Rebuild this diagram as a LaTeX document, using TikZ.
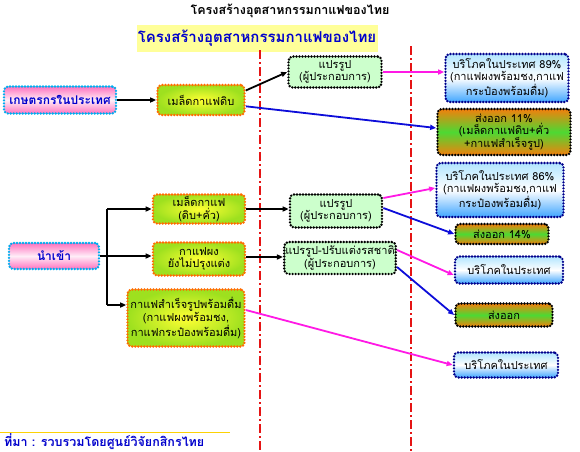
\documentclass[tikz,border=0pt]{standalone}
\usepackage{fontspec}
\setmainfont[Script=Thai]{Loma}
\usetikzlibrary{arrows.meta,calc}
\definecolor{pinkA}{rgb}{1,0.45,0.75}
\definecolor{pinkB}{rgb}{1,0.93,0.97}
\definecolor{limeA}{rgb}{0.62,0.88,0.12}
\definecolor{yelA}{rgb}{1,1,0.2}
\definecolor{procG}{rgb}{0.8,1,0.8}
\definecolor{blueA}{rgb}{0.7,0.9,1}
\definecolor{blueB}{rgb}{0.25,0.65,1}
\definecolor{orA}{rgb}{0.95,0.5,0.05}
\definecolor{grA}{rgb}{0.3,0.85,0.2}
\definecolor{navy}{rgb}{0,0,0.55}
\definecolor{txtblue}{rgb}{0,0,0.8}
\definecolor{bannerY}{rgb}{1,1,0.6}
\definecolor{redL}{rgb}{0.9,0.08,0.08}
\definecolor{magL}{rgb}{1,0.1,0.9}
\definecolor{blueL}{rgb}{0.05,0.05,0.85}
\tikzset{
  dotb/.style={dash pattern=on 0pt off 3pt, line cap=round, line width=2.7pt, rounded corners=4pt},
  basebox/.style={dotb, align=center, inner sep=1pt, font=\fontsize{11}{12.8}\selectfont},
  pinkbox/.style={basebox, draw=cyan, top color=pinkA, bottom color=pinkA, middle color=pinkB, text=txtblue, font=\fontsize{12}{13}\selectfont\bfseries},
  yelbox/.style={basebox, draw=orange!85!red, inner color=yelA, outer color=limeA},
  procbox/.style={basebox, draw=black, fill=procG},
  consbox/.style={basebox, draw=navy, top color=blueA, bottom color=blueB, middle color=white},
  expbox/.style={basebox, draw=black, top color=orA, bottom color=orA, middle color=grA},
  redline/.style={draw=redL, line width=2.4pt, dash pattern=on 9pt off 3pt on 2pt off 3pt},
  blk/.style={draw=black, line width=1.8pt, -{Triangle[length=6pt,width=5pt]}},
  mag/.style={draw=magL, line width=1.8pt, -{Triangle[length=6pt,width=5pt]}},
  blu/.style={draw=blueL, line width=1.8pt, -{Triangle[length=6pt,width=5pt]}},
}
\begin{document}
\begin{tikzpicture}[x=1pt,y=-1pt]
\useasboundingbox (0,0) rectangle (580,451);
\fill[white] (0,0) rectangle (580,451);
% title and banner
\node (title) at (290,11) {\fontsize{12.5}{14}\selectfont\bfseries โครงสร้างอุตสาหกรรมกาแฟของไทย};
\node[fill=bannerY, minimum width=241pt, minimum height=27pt, inner sep=0pt, text=txtblue] (banner) at (257,38) {\fontsize{15}{17}\selectfont\bfseries โครงสร้างอุตสาหกรรมกาแฟของไทย};
% red dash-dot lines
\coordinate (r1t) at (260,50);
\coordinate (r1b) at (260,451);
\coordinate (r2t) at (411,46);
\coordinate (r2b) at (411,451);
\draw[redline] (r1t) -- (r1b);
\draw[redline] (r2t) -- (r2b);
% top section
\node[pinkbox, minimum width=112pt, minimum height=27pt] (farm) at (60,100) {เกษตรกรในประเทศ};
\node[yelbox, minimum width=87pt, minimum height=30pt] (raw) at (201,100) {เมล็ดกาแฟดิบ};
\node[procbox, minimum width=93pt, minimum height=31pt] (proc1) at (335,72) {แปรรูป\\(ผู้ประกอบการ)};
\node[consbox, minimum width=123pt, minimum height=48pt] (dom1) at (507,78) {บริโภคในประเทศ 89\%\\(กาแฟผงพร้อมชง,กาแฟ\\กระป๋องพร้อมดื่ม)};
\node[expbox, minimum width=133pt, minimum height=46pt] (exp1) at (504,132) {ส่งออก 11\%\\(เมล็ดกาแฟดิบ+คั่ว\\+กาแฟสำเร็จรูป)};
% middle section
\node[pinkbox, minimum width=90pt, minimum height=26pt] (imp) at (54,256) {นำเข้า};
\node[yelbox, minimum width=92pt, minimum height=29pt] (bean) at (199,209) {เมล็ดกาแฟ\\(ดิบ+คั่ว)};
\node[yelbox, minimum width=92pt, minimum height=33pt] (powder) at (199,259) {กาแฟผง\\ยังไม่ปรุงแต่ง};
\node[yelbox, minimum width=117pt, minimum height=57pt] (ready) at (186,318) {กาแฟสำเร็จรูปพร้อมดื่ม\\(กาแฟผงพร้อมชง,\\กาแฟกระป๋องพร้อมดื่ม)};
\node[procbox, minimum width=92pt, minimum height=33pt] (proc2) at (336,211) {แปรรูป\\(ผู้ประกอบการ)};
\node[procbox, minimum width=103pt, minimum height=32pt] (proc3) at (340,258) {แปรรูป-ปรับแต่งรสชาติ\\(ผู้ประกอบการ)};
\node[consbox, minimum width=127pt, minimum height=54pt] (dom2) at (500,190) {บริโภคในประเทศ 86\%\\(กาแฟผงพร้อมชง,กาแฟ\\กระป๋องพร้อมดื่ม)};
\node[expbox, minimum width=93pt, minimum height=20pt] (exp2) at (502,234) {ส่งออก 14\%};
\node[consbox, minimum width=108pt, minimum height=27pt] (dom3) at (509,270) {บริโภคในประเทศ};
\node[expbox, minimum width=97pt, minimum height=23pt] (exp3) at (504,315) {ส่งออก};
\node[consbox, minimum width=104pt, minimum height=25pt] (dom4) at (506,365) {บริโภคในประเทศ};
% source
\coordinate (yl1) at (0,432);
\coordinate (yl2) at (230,432);
\draw[yellow!70!orange, line width=0.6pt] (yl1) -- (yl2);
\node[anchor=west, text=txtblue, inner sep=0pt] (src) at (4,442) {\fontsize{12.5}{14}\selectfont\bfseries ที่มา : รวบรวมโดยศูนย์วิจัยกสิกรไทย};
% connectors top
\draw[blk] (farm.east) -- (raw.west);
\draw[blk] (raw.12) -- (proc1.west);
\draw[blu] (raw.-8) -- ([yshift=4pt]exp1.west);
\draw[mag] (proc1.east) -- (proc1.east -| dom1.west);
% connectors middle
\coordinate (hub) at (107,256);
\coordinate (readyin) at ([yshift=13pt]ready.west);
\draw[black, line width=1.8pt] (imp.east) -- (hub);
\draw[black, line width=1.8pt] (hub |- bean.west) -- (hub |- readyin);
\draw[blk] (hub |- bean.west) -- (bean.west);
\draw[blk] (hub) -- (hub -| powder.west);
\draw[blk] (hub |- readyin) -- (readyin);
\draw[blk] (bean.east) -- (bean.east -| proc2.west);
\draw[blk] ([yshift=2pt]powder.east) -- ([yshift=2pt]powder.east -| proc3.west);
\draw[mag] ([yshift=13pt]proc2.east) -- ([yshift=2pt]dom2.west);
\draw[blu] ([yshift=3pt]proc2.east) -- (exp2.west);
\draw[mag] ([yshift=8pt]proc3.east) -- ([yshift=-5pt]dom3.west);
\draw[blu] ([yshift=-9pt]proc3.east) -- (exp3.west);
\draw[mag] ([yshift=8pt]ready.east) -- (dom4.west);
\end{tikzpicture}
\end{document}
